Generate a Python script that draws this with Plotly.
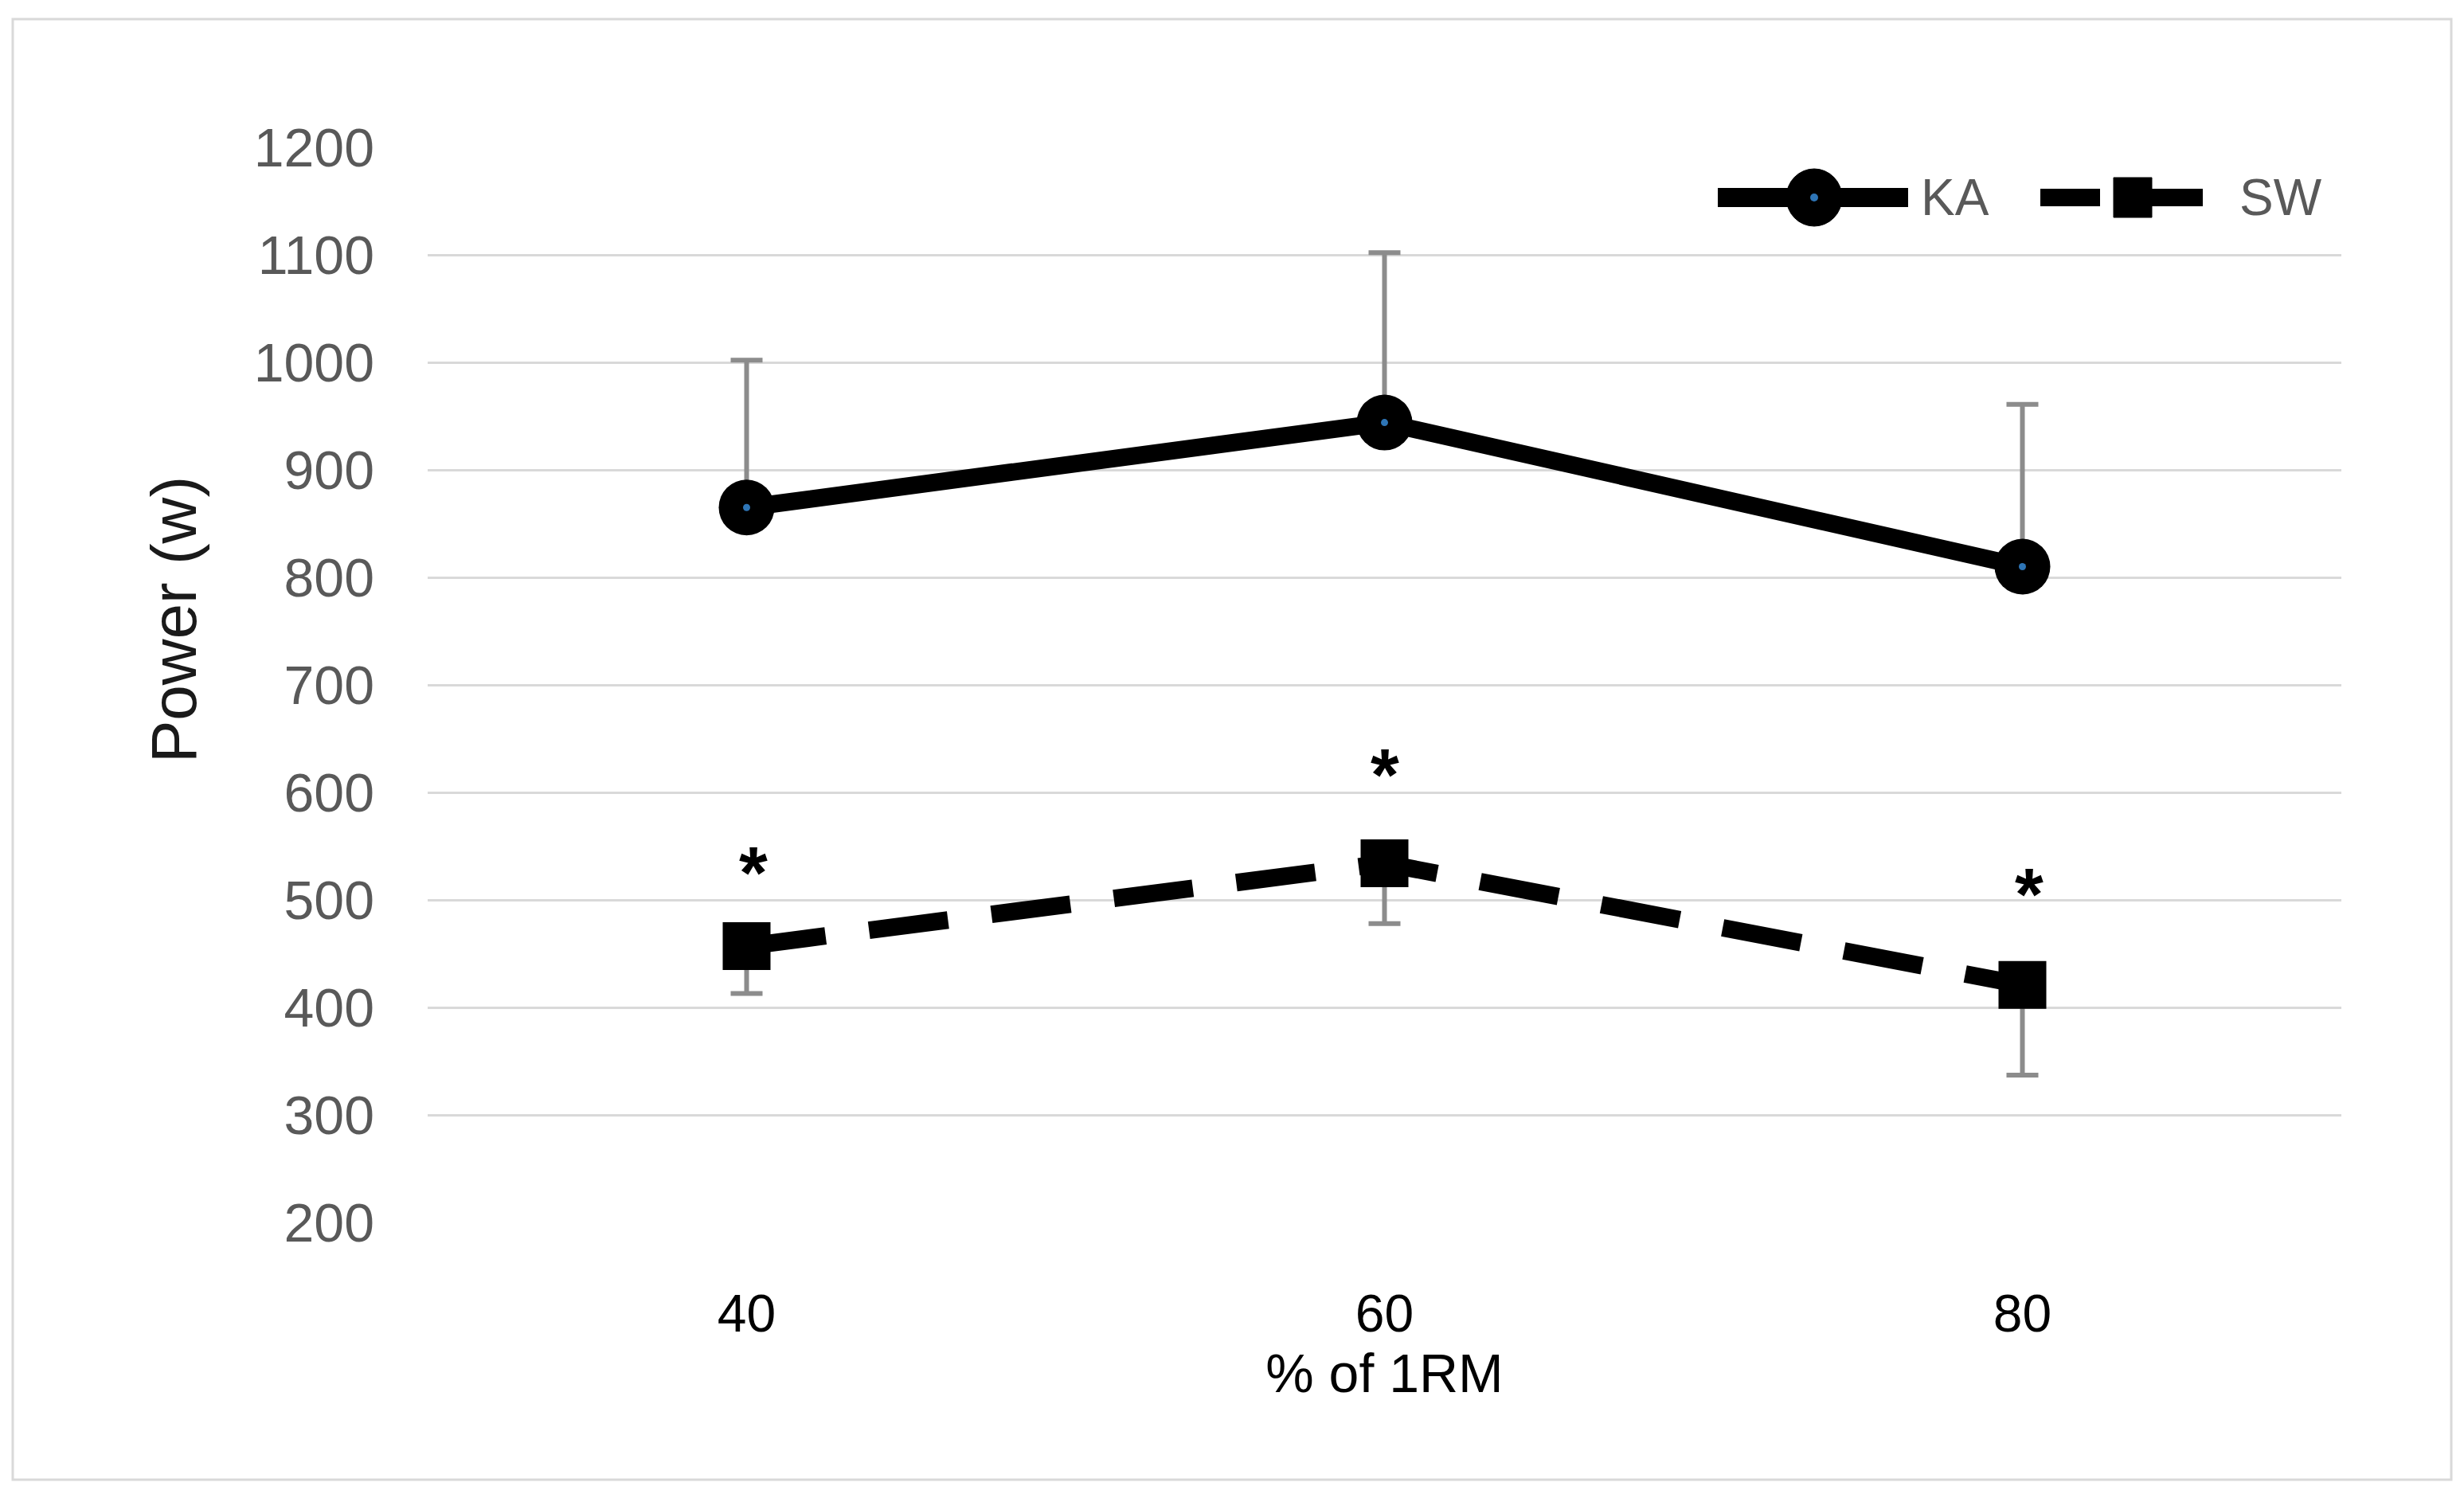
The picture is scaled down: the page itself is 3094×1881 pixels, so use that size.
import plotly.graph_objects as go

# ---- data ----
categories = ["40", "60", "80"]
ka_mean = [865, 944, 810]
ka_sd = [137, 158, 151]
sw_mean = [457, 534, 421]
sw_sd = [44, 56, 84]
sig_marks = ["*", "*", "*"]
sig_level = [531, 622, 511]   # height (W) at which each significance mark sits
y_ticks = [200, 300, 400, 500, 600, 700, 800, 900, 1000, 1100, 1200]
series_names = ["KA", "SW"]

W, H = 3094, 1881
OFF = 8  # page body margin
# target plot area in screenshot pixels
PX0, PX1, PY0, PY1 = 537, 2940, 185, 1535
L, T = PX0 - OFF, PY0 - OFF
R, B = W - (PX1 - OFF), H - (PY1 - OFF)
pw, ph = PX1 - PX0, PY1 - PY0


def px(x):  # screenshot x -> paper
    return (x - PX0) / pw


def py(y):  # screenshot y -> paper
    return (PY1 - y) / ph


fig = go.Figure()

fig.add_trace(go.Scatter(
    x=categories, y=ka_mean, name=series_names[0], mode="lines+markers",
    line=dict(color="black", width=22),
    marker=dict(symbol="circle", size=70, color="black"),
    error_y=dict(type="data", symmetric=False, array=ka_sd,
                 arrayminus=[0] * len(ka_sd), color="#8c8c8c",
                 thickness=6, width=20),
    showlegend=False,
))
fig.add_trace(go.Scatter(
    x=categories, y=ka_mean, mode="markers", showlegend=False,
    hoverinfo="skip", marker=dict(size=9, color="#2e75b6"),
))
fig.add_trace(go.Scatter(
    x=categories, y=sw_mean, name=series_names[1], mode="lines+markers",
    line=dict(color="black", width=22, dash="100px,55px"),
    marker=dict(symbol="square", size=60, color="black"),
    error_y=dict(type="data", symmetric=False, array=[0] * len(sw_sd),
                 arrayminus=sw_sd, color="#8c8c8c",
                 thickness=6, width=20),
    showlegend=False,
))

for i, (v, s) in enumerate(zip(sig_level, sig_marks)):
    fig.add_annotation(x=i, y=v, text="<b>%s</b>" % s, showarrow=False,
                       xanchor="center", yanchor="middle", yshift=-8,
                       xshift=8 if i != 1 else 0,
                       font=dict(family="Liberation Sans", size=92, color="black"))

# y-axis title (offset upward as in the reference)
fig.add_annotation(xref="paper", yref="paper", x=px(218), y=py(778), text="Power (w)",
                   textangle=-90, showarrow=False, xanchor="center", yanchor="middle",
                   font=dict(family="Liberation Sans", size=80, color="#1a1a1a"))

# ---- legend (drawn to match the original glyph sizes) ----
LY = 248
fig.add_shape(type="line", xref="paper", yref="paper", x0=px(2157), x1=px(2396),
              y0=py(LY), y1=py(LY), line=dict(color="black", width=24))
fig.add_shape(type="circle", xref="paper", yref="paper", x0=px(2278 - 35), x1=px(2278 + 35),
              y0=py(LY + 36), y1=py(LY - 36), line=dict(color="black", width=1), fillcolor="black")
fig.add_shape(type="circle", xref="paper", yref="paper", x0=px(2278 - 5), x1=px(2278 + 5),
              y0=py(LY + 5), y1=py(LY - 5), line=dict(width=0), fillcolor="#2e75b6")
fig.add_annotation(xref="paper", yref="paper", x=px(2410), y=py(LY), text=series_names[0],
                   showarrow=False, xanchor="left", yanchor="middle",
                   font=dict(family="Liberation Sans", size=64, color="#595959"))
fig.add_shape(type="line", xref="paper", yref="paper", x0=px(2562), x1=px(2637),
              y0=py(LY), y1=py(LY), line=dict(color="black", width=22))
fig.add_shape(type="line", xref="paper", yref="paper", x0=px(2690), x1=px(2766),
              y0=py(LY), y1=py(LY), line=dict(color="black", width=22))
fig.add_shape(type="rect", xref="paper", yref="paper", x0=px(2654), x1=px(2702),
              y0=py(LY + 25), y1=py(LY - 25), line=dict(color="black", width=1), fillcolor="black")
fig.add_annotation(xref="paper", yref="paper", x=px(2810), y=py(LY), text=series_names[1],
                   showarrow=False, xanchor="left", yanchor="middle",
                   font=dict(family="Liberation Sans", size=64, color="#595959"))

# outer border
fig.add_shape(type="rect", xref="paper", yref="paper",
              x0=px(16), x1=px(3078), y0=py(1858), y1=py(24),
              line=dict(color="#d9d9d9", width=3), fillcolor="rgba(0,0,0,0)", layer="below")

fig.update_layout(
    width=W, height=H,
    margin=dict(l=L, r=R, t=T, b=B, autoexpand=False),
    paper_bgcolor="white", plot_bgcolor="white",
    showlegend=False,
    xaxis=dict(type="category", range=[-0.5, 2.5], showgrid=False, showline=False,
               zeroline=False, ticks="", ticklabelstandoff=70,
               tickfont=dict(family="Liberation Sans", size=66, color="black"),
               title=dict(text="% of 1RM", standoff=8,
                          font=dict(family="Liberation Sans", size=68, color="black"))),
    yaxis=dict(range=[200, 1200], tickvals=y_ticks, showgrid=True,
               gridcolor="#d9d9d9", gridwidth=3, zeroline=False, showline=False,
               ticks="", ticklabelstandoff=66,
               tickfont=dict(family="Liberation Sans", size=68, color="#595959")),
)

fig.write_html("out.html")
